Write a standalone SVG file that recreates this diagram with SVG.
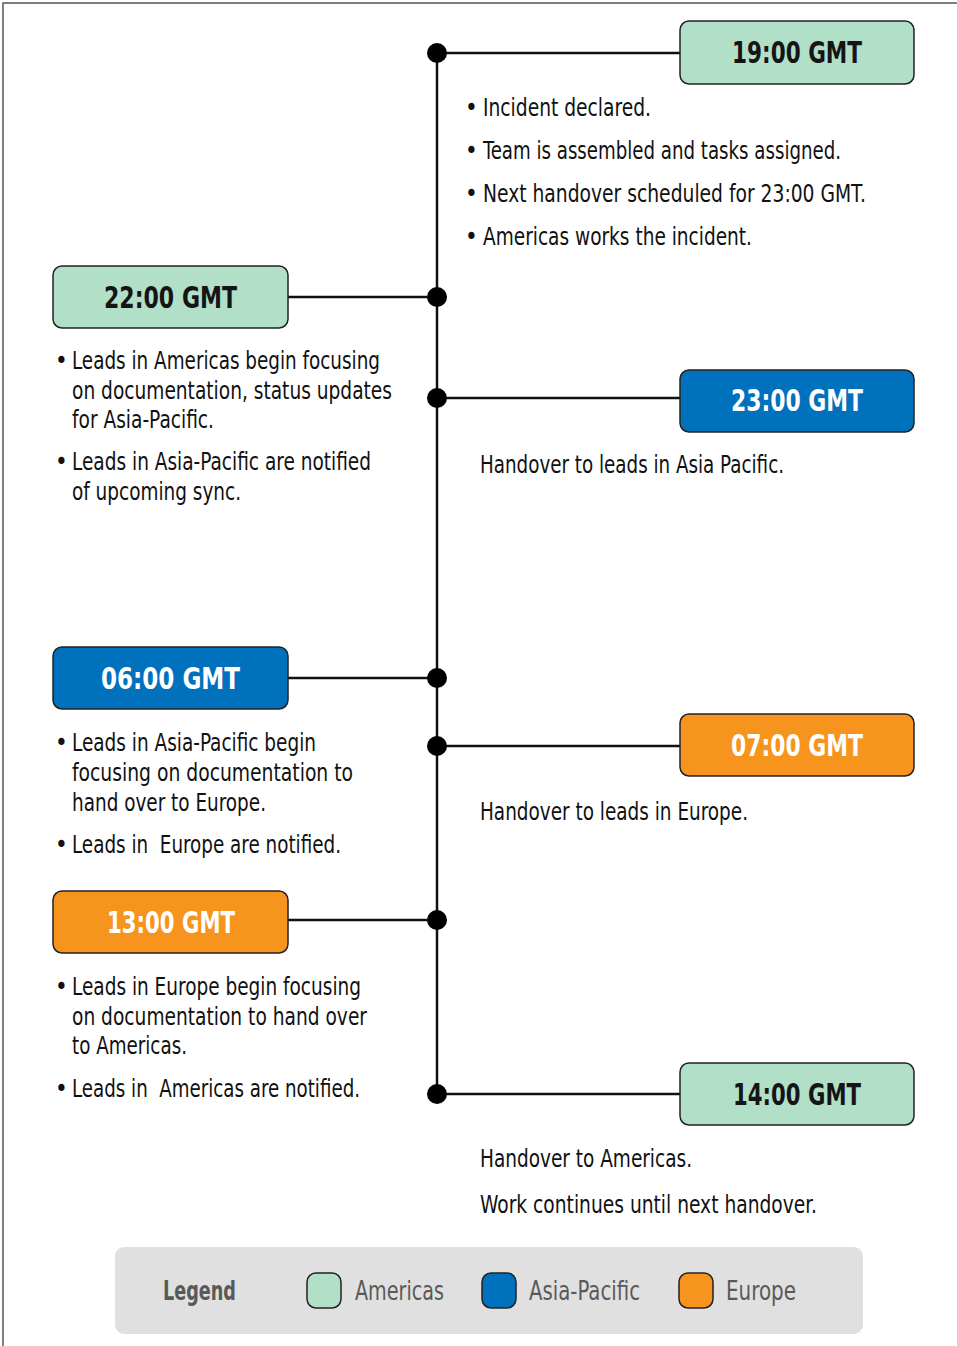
<svg xmlns="http://www.w3.org/2000/svg" width="957" height="1346" viewBox="0 0 957 1346">
<style>
.frame{fill:none;stroke:#555;stroke-width:1.5}
.box{stroke:#222;stroke-width:1.5}
.am{fill:#b2dfc8}
.ap{fill:#0071bc}
.eu{fill:#f7941d}
.title{font-family:"Liberation Sans Narrow","DejaVu Sans Condensed",sans-serif;font-weight:bold;font-size:30px}
.dark{fill:#151515}
.light{fill:#fff}
.body{font-family:"Liberation Sans Narrow","DejaVu Sans Condensed",sans-serif;font-size:24px;fill:#111}
.line{stroke:#111;stroke-width:2.5;fill:none}
.dot{fill:#000}
.leg{font-family:"Liberation Sans Narrow","DejaVu Sans Condensed",sans-serif;font-size:26px;fill:#595959}
</style>
<rect x="0" y="0" width="957" height="1346" fill="#fff"/>
<rect class="frame" x="3" y="3" width="1000" height="1400"/>
<g id="connectors">
<line class="line" x1="437" y1="53" x2="437" y2="1094"/>
<line class="line" x1="437" y1="53" x2="680" y2="53"/>
<line class="line" x1="288" y1="297" x2="437" y2="297"/>
<line class="line" x1="437" y1="398" x2="680" y2="398"/>
<line class="line" x1="288" y1="678" x2="437" y2="678"/>
<line class="line" x1="437" y1="746" x2="680" y2="746"/>
<line class="line" x1="288" y1="920" x2="437" y2="920"/>
<line class="line" x1="437" y1="1094" x2="680" y2="1094"/>
<circle class="dot" cx="437" cy="53" r="10"/>
<circle class="dot" cx="437" cy="297" r="10"/>
<circle class="dot" cx="437" cy="398" r="10"/>
<circle class="dot" cx="437" cy="678" r="10"/>
<circle class="dot" cx="437" cy="746" r="10"/>
<circle class="dot" cx="437" cy="920" r="10"/>
<circle class="dot" cx="437" cy="1094" r="10"/>
</g>
<g id="n1900">
<rect class="box am" x="680" y="21" width="234" height="63" rx="9"/>
<text class="title dark" x="732" y="63" textLength="130" lengthAdjust="spacingAndGlyphs">19:00 GMT</text>
<text class="body" x="465" y="116">•</text>
<text class="body" x="483" y="116" textLength="168" lengthAdjust="spacingAndGlyphs">Incident declared.</text>
<text class="body" x="465" y="159">•</text>
<text class="body" x="483" y="159" textLength="358" lengthAdjust="spacingAndGlyphs">Team is assembled and tasks assigned.</text>
<text class="body" x="465" y="202">•</text>
<text class="body" x="483" y="202" textLength="383" lengthAdjust="spacingAndGlyphs">Next handover scheduled for 23:00 GMT.</text>
<text class="body" x="465" y="245">•</text>
<text class="body" x="483" y="245" textLength="269" lengthAdjust="spacingAndGlyphs">Americas works the incident.</text>
</g>
<g id="n2200">
<rect class="box am" x="53" y="266" width="235" height="62" rx="9"/>
<text class="title dark" x="104" y="308" textLength="133" lengthAdjust="spacingAndGlyphs">22:00 GMT</text>
<text class="body" x="55" y="369">•</text>
<text class="body" x="72" y="369" textLength="308" lengthAdjust="spacingAndGlyphs">Leads in Americas begin focusing</text>
<text class="body" x="72" y="399" textLength="320" lengthAdjust="spacingAndGlyphs">on documentation, status updates</text>
<text class="body" x="72" y="428" textLength="142" lengthAdjust="spacingAndGlyphs">for Asia-Pacific.</text>
<text class="body" x="55" y="470">•</text>
<text class="body" x="72" y="470" textLength="299" lengthAdjust="spacingAndGlyphs">Leads in Asia-Pacific are notified</text>
<text class="body" x="72" y="500" textLength="169" lengthAdjust="spacingAndGlyphs">of upcoming sync.</text>
</g>
<g id="n2300">
<rect class="box ap" x="680" y="370" width="234" height="62" rx="9"/>
<text class="title light" x="731" y="411" textLength="132" lengthAdjust="spacingAndGlyphs">23:00 GMT</text>
<text class="body" x="480" y="473" textLength="304" lengthAdjust="spacingAndGlyphs">Handover to leads in Asia Pacific.</text>
</g>
<g id="n0600">
<rect class="box ap" x="53" y="647" width="235" height="62" rx="9"/>
<text class="title light" x="101" y="689" textLength="139" lengthAdjust="spacingAndGlyphs">06:00 GMT</text>
<text class="body" x="55" y="751">•</text>
<text class="body" x="72" y="751" textLength="244" lengthAdjust="spacingAndGlyphs">Leads in Asia-Pacific begin</text>
<text class="body" x="72" y="781" textLength="281" lengthAdjust="spacingAndGlyphs">focusing on documentation to</text>
<text class="body" x="72" y="811" textLength="194" lengthAdjust="spacingAndGlyphs">hand over to Europe.</text>
<text class="body" x="55" y="853">•</text>
<text class="body" x="72" y="853" textLength="269" lengthAdjust="spacingAndGlyphs" xml:space="preserve">Leads in  Europe are notified.</text>
</g>
<g id="n0700">
<rect class="box eu" x="680" y="714" width="234" height="62" rx="9"/>
<text class="title light" x="731" y="756" textLength="132" lengthAdjust="spacingAndGlyphs">07:00 GMT</text>
<text class="body" x="480" y="820" textLength="268" lengthAdjust="spacingAndGlyphs">Handover to leads in Europe.</text>
</g>
<g id="n1300">
<rect class="box eu" x="53" y="891" width="235" height="62" rx="9"/>
<text class="title light" x="107" y="933" textLength="128" lengthAdjust="spacingAndGlyphs">13:00 GMT</text>
<text class="body" x="55" y="995">•</text>
<text class="body" x="72" y="995" textLength="289" lengthAdjust="spacingAndGlyphs">Leads in Europe begin focusing</text>
<text class="body" x="72" y="1025" textLength="295" lengthAdjust="spacingAndGlyphs">on documentation to hand over</text>
<text class="body" x="72" y="1054" textLength="115" lengthAdjust="spacingAndGlyphs">to Americas.</text>
<text class="body" x="55" y="1097">•</text>
<text class="body" x="72" y="1097" textLength="288" lengthAdjust="spacingAndGlyphs" xml:space="preserve">Leads in  Americas are notified.</text>
</g>
<g id="n1400">
<rect class="box am" x="680" y="1063" width="234" height="62" rx="9"/>
<text class="title dark" x="733" y="1105" textLength="128" lengthAdjust="spacingAndGlyphs">14:00 GMT</text>
<text class="body" x="480" y="1167" textLength="212" lengthAdjust="spacingAndGlyphs">Handover to Americas.</text>
<text class="body" x="480" y="1213" textLength="337" lengthAdjust="spacingAndGlyphs">Work continues until next handover.</text>
</g>
<g id="legend">
<rect x="115" y="1247" width="748" height="87" rx="9" fill="#e0e0e0"/>
<text class="leg" x="163" y="1300" font-weight="bold" textLength="73" lengthAdjust="spacingAndGlyphs">Legend</text>
<rect class="box am" x="307" y="1273" width="34" height="35" rx="9"/>
<text class="leg" x="355" y="1300" textLength="89" lengthAdjust="spacingAndGlyphs">Americas</text>
<rect class="box ap" x="482" y="1273" width="34" height="35" rx="9"/>
<text class="leg" x="529" y="1300" textLength="111" lengthAdjust="spacingAndGlyphs">Asia-Pacific</text>
<rect class="box eu" x="679" y="1273" width="34" height="35" rx="9"/>
<text class="leg" x="726" y="1300" textLength="70" lengthAdjust="spacingAndGlyphs">Europe</text>
</g>
</svg>
